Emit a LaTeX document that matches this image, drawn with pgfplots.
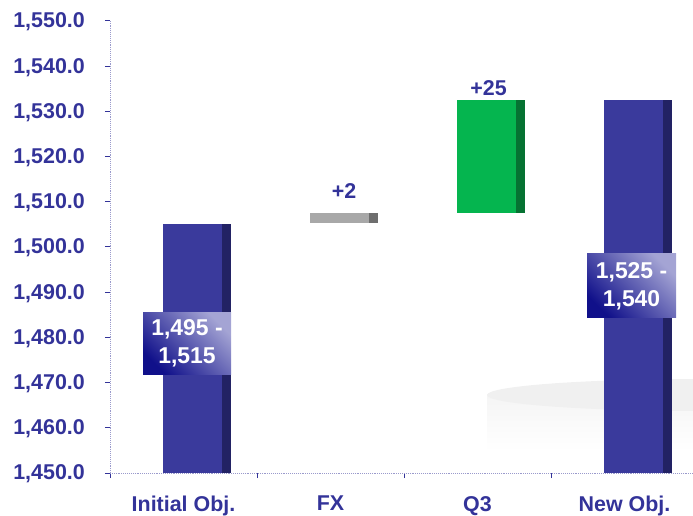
\documentclass[border=0pt]{standalone}
\usepackage{pgfplots}
\pgfplotsset{compat=1.18}
\usepackage{fontspec}
\setmainfont{Liberation Sans}
\definecolor{navy}{HTML}{333399}
\definecolor{barblue}{HTML}{3A3A9C}
\definecolor{bardark}{HTML}{222264}
\definecolor{bargreen}{HTML}{05B54F}
\definecolor{greendark}{HTML}{067232}
\definecolor{bargray}{HTML}{A8A8A8}
\definecolor{graydark}{HTML}{6E6E6E}
\definecolor{axisc}{HTML}{9A9ACC}
\definecolor{boxdark}{HTML}{10108A}
\definecolor{boxlight}{HTML}{A4A4D4}
\tikzset{stripe/.style={path picture={\pgfsetfillcolor{#1}\pgfpathrectanglecorners{\pgfpointadd{\pgfpointanchor{path picture bounding box}{north east}}{\pgfpoint{-9bp}{0pt}}}{\pgfpointanchor{path picture bounding box}{south east}}\pgfusepath{fill}}}}
\begin{document}
\begin{tikzpicture}
\begin{scope}
\clip (0,0) rectangle (693bp,516bp);
\shade[top color=black!4, bottom color=white] (487bp,121bp) rectangle (900bp,65bp);
\fill[black!6] (700bp,121bp) ellipse [x radius=213bp, y radius=16bp];
\end{scope}
\begin{axis}[
  scale only axis, width=583bp, height=452bp,
  at={(110bp,43bp)}, anchor=south west,
  xmin=-0.5, xmax=3.466, ymin=1450, ymax=1550,
  ybar stacked, bar width=68bp, bar shift=13.5bp, stacked ignores zero,
  axis x line*=bottom, axis y line*=left,
  axis line style={draw=axisc, densely dotted, line width=0.9bp},
  xtick={0,1,2,3},
  xticklabels={Initial Obj., FX, Q3, New Obj.},
  minor xtick={-0.5,0.5,1.5,2.5},
  major x tick style={draw=none},
  minor x tick style={draw=navy, line width=1bp},
  minor tick length=5bp,
  ytick={1450,1460,...,1550},
  yticklabels={{1,450.0},{1,460.0},{1,470.0},{1,480.0},{1,490.0},{1,500.0},{1,510.0},{1,520.0},{1,530.0},{1,540.0},{1,550.0}},
  tick align=outside, major tick length=5bp,
  y tick style={draw=navy, line width=1bp},
  tick label style={font=\fontsize{21.5}{24}\selectfont\bfseries, text=navy},
  yticklabel style={inner sep=0pt, xshift=-20bp, yshift=-1bp},
  xticklabel style={inner sep=0pt, yshift=-18bp},
  clip=false,
]
% invisible base
\addplot[draw=none, fill=none] coordinates {(0,1450) (1,1505.3) (2,1507.6) (3,1450)};
\addplot[draw=none, fill=barblue, stripe=bardark] coordinates {(0,55) (1,0) (2,0) (3,0)};
\addplot[draw=none, fill=bargray, stripe=graydark] coordinates {(0,0) (1,2.2) (2,0) (3,0)};
\addplot[draw=none, fill=bargreen, stripe=greendark] coordinates {(0,0) (1,0) (2,24.9) (3,0)};
\addplot[draw=none, fill=barblue, stripe=bardark] coordinates {(0,0) (1,0) (2,0) (3,82.5)};
\coordinate (lfx) at (axis cs:1,1507.5);
\coordinate (lq3) at (axis cs:2,1532.5);
\coordinate (b1) at (axis cs:0.024,1478.65);
\coordinate (b2) at (axis cs:3.048,1491.4);
\end{axis}
\node[font=\fontsize{21.5}{24}\selectfont\bfseries, text=navy] at ([xshift=13.5bp,yshift=22bp]lfx) {+2};
\node[font=\fontsize{21.5}{24}\selectfont\bfseries, text=navy] at ([xshift=11bp,yshift=12bp]lq3) {+25};
\node[shading=axis, top color=boxlight, bottom color=boxdark, shading angle=-45,
  minimum width=88bp, minimum height=61bp, inner sep=0pt, align=center, text=white,
  font=\fontsize{23}{28}\selectfont\bfseries] at (b1) {1,495 -\\1,515};
\node[shading=axis, top color=boxlight, bottom color=boxdark, shading angle=-45,
  minimum width=89bp, minimum height=64bp, inner sep=0pt, align=center, text=white,
  font=\fontsize{23}{28}\selectfont\bfseries] at (b2) {1,525 -\\1,540};
\pgfresetboundingbox
\useasboundingbox (0,0) rectangle (693bp,516bp);
\end{tikzpicture}
\end{document}
